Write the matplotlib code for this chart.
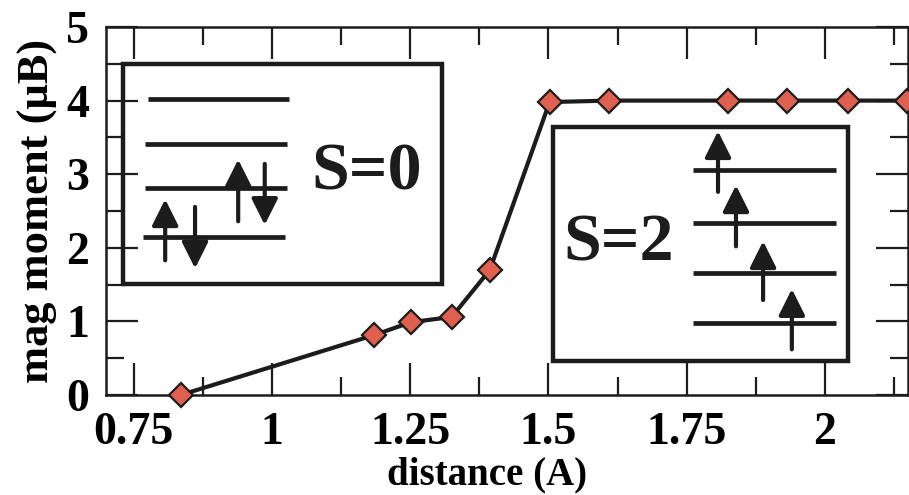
import matplotlib
matplotlib.use("Agg")
import matplotlib.pyplot as plt
from matplotlib.patches import Rectangle
from matplotlib.ticker import MultipleLocator, FixedLocator

# ---- data ----
distance = [0.835, 1.185, 1.252, 1.325, 1.394, 1.502, 1.609, 1.825, 1.931, 2.041, 2.148]
moment = [0.0, 0.815, 0.99, 1.06, 1.70, 3.98, 4.0, 4.0, 4.0, 4.0, 4.0]
xticks = [0.75, 1.0, 1.25, 1.5, 1.75, 2.0]
xticklabels = ["0.75", "1", "1.25", "1.5", "1.75", "2"]
yticks = [0, 1, 2, 3, 4, 5]
yticklabels = ["0", "1", "2", "3", "4", "5"]

# inset box 1 (S=0): levels and spin arrows (data coordinates)
box0 = (0.731, 1.51, 1.307, 4.50)
levels0 = [(0.776, 1.031, 4.02), (0.7705, 1.027, 3.41), (0.7705, 1.027, 2.81), (0.767, 1.024, 2.15)]
arrows0 = [(0.807, 1.83, 2.66), (0.861, 2.555, 1.72), (0.939, 2.36, 3.20), (0.987, 3.14, 2.31)]
label0 = ("S=0", 1.172, 3.02)

# inset box 2 (S=2)
box2 = (1.508, 0.462, 2.0415, 3.64)
levels2 = [(1.761, 2.020, 3.057), (1.761, 2.020, 2.337), (1.761, 2.020, 1.658), (1.761, 2.020, 0.978)]
arrows2 = [(1.8065, 2.76, 3.585), (1.839, 2.02, 2.85), (1.888, 1.29, 2.09), (1.940, 0.62, 1.44)]
label2 = ("S=2", 1.626, 2.052)

plt.rcParams['font.family'] = ['Liberation Serif', 'DejaVu Serif']
plt.rcParams['font.weight'] = 'bold'

fig = plt.figure(figsize=(9.09, 4.95), dpi=100)
ax = fig.add_axes([106/909, 100/495, 802/909, 368/495])

ax.plot(distance, moment, color='#1c1c1c', lw=3, marker='D', markersize=12,
        markerfacecolor='#E0604F', markeredgecolor='#1c1c1c', markeredgewidth=1.6,
        zorder=4, clip_on=False)

ax.set_xlim(0.7, 2.15)
ax.set_ylim(0, 5)
ax.xaxis.set_major_locator(FixedLocator(xticks))
ax.set_xticklabels(xticklabels)
ax.xaxis.set_minor_locator(MultipleLocator(0.125))
ax.yaxis.set_major_locator(FixedLocator(yticks))
ax.set_yticklabels(yticklabels)
ax.yaxis.set_minor_locator(MultipleLocator(0.5))

ax.tick_params(which='both', direction='in', top=True, right=True, width=1.6, color='#1c1c1c')
ax.tick_params(which='major', length=23, labelsize=33, pad=12)
ax.tick_params(which='minor', length=13)
for lab in ax.get_xticklabels() + ax.get_yticklabels():
    lab.set_fontweight('bold')
for s in ax.spines.values():
    s.set_linewidth(1.8)
    s.set_color('#1c1c1c')

ax.set_xlabel("distance (A)", fontsize=28, fontweight='bold', labelpad=0)
ax.xaxis.set_label_coords(0.475, -0.168)
ax.set_ylabel("mag moment (μB)", fontsize=32, fontweight='bold', labelpad=6)


def draw_box(box, levels, arrows, label):
    x0, y0, x1, y1 = box
    ax.add_patch(Rectangle((x0, y0), x1 - x0, y1 - y0, facecolor='white',
                           edgecolor='#1c1c1c', lw=3.2, zorder=1))
    for xa, xb, yl in levels:
        ax.plot([xa, xb], [yl, yl], color='#1c1c1c', lw=3.4, zorder=3, solid_capstyle='butt')
    for xa, ys, ye in arrows:
        ax.annotate("", xy=(xa, ye), xytext=(xa, ys),
                    arrowprops=dict(arrowstyle='-|>,head_length=0.8,head_width=0.4',
                                    color='#1c1c1c', lw=3.0, shrinkA=0, shrinkB=0,
                                    mutation_scale=20),
                    zorder=3)
    txt, tx, ty = label
    ax.text(tx, ty, txt, fontsize=49, fontweight='bold', ha='center', va='center',
            color='#1c1c1c', zorder=3)


draw_box(box0, levels0, arrows0, label0)
draw_box(box2, levels2, arrows2, label2)

fig.savefig("out.png", dpi=100, facecolor='white')
